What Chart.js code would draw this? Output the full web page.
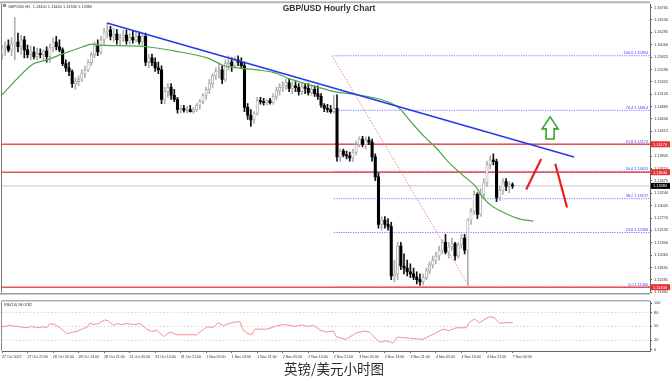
<!DOCTYPE html>
<html><head><meta charset="utf-8">
<script src="https://cdn.jsdelivr.net/npm/chart.js@4.4.0/dist/chart.umd.min.js"></script>
<style>
html,body{margin:0;padding:0;background:#fff;width:672px;height:381px;overflow:hidden;position:relative;font-family:"Liberation Sans",Arial,sans-serif}
canvas{position:absolute;left:0}
#main{top:0}
#rsi{top:297px}
#title{position:absolute;top:3.5px;left:0;width:658px;text-align:center;font:bold 8.5px "Liberation Sans",Arial,sans-serif;line-height:1;color:#333}
#caption{position:absolute;top:362px;left:0;width:668px;text-align:center;font:13.5px "Noto Sans CJK SC",sans-serif;line-height:1;color:#2a2a2a}
</style></head>
<body>
<canvas id="main" width="672" height="297"></canvas>
<canvas id="rsi" width="672" height="65"></canvas>
<div id="title">GBP/USD Hourly Chart</div>
<div id="caption">英镑/美元小时图</div>
<script>
// ---------- DATA ----------
const opens = [
1.1587,1.1600,1.1604,1.1596,1.1607,1.1611,1.1602,1.1615,1.1596,1.1587,
1.1592,1.1583,1.1588,1.1587,1.1594,1.1583,1.1600,1.1611,1.1602,1.1596,
1.1570,1.1562,1.1555,1.1532,1.1536,1.1541,1.1551,1.1558,1.1572,1.1587,
1.1604,1.1592,1.1615,1.1630,1.1634,1.1622,1.1626,1.1615,1.1619,1.1624,
1.1613,1.1620,1.1615,1.1622,1.1611,1.1622,1.1573,1.1581,1.1572,1.1562,
1.1558,1.1502,1.1517,1.1525,1.1510,1.1502,1.1483,1.1485,1.1481,1.1483,
1.1479,1.1483,1.1491,1.1498,1.1510,1.1521,1.1532,1.1547,1.1555,1.1558,
1.1540,1.1570,1.1573,1.1566,1.1577,1.1573,1.1566,1.1487,1.1472,1.1463,
1.1476,1.1500,1.1498,1.1496,1.1500,1.1496,1.1508,1.1519,1.1525,1.1528,
1.1534,1.1523,1.1528,1.1525,1.1517,1.1526,1.1523,1.1515,1.1521,1.1513,
1.1508,1.1491,1.1485,1.1483,1.1479,1.1485,1.1393,1.1404,1.1397,1.1395,
1.1391,1.1402,1.1416,1.1427,1.1416,1.1425,1.1421,1.1393,1.1355,1.1265,
1.1273,1.1265,1.1261,1.1167,1.1171,1.1224,1.1186,1.1182,1.1175,1.1171,
1.1165,1.1160,1.1156,1.1164,1.1177,1.1188,1.1197,1.1205,1.1216,1.1231,
1.1212,1.1222,1.1228,1.1205,1.1226,1.1239,1.1216,1.1273,1.1290,1.1322,
1.1284,1.1322,1.1344,1.1378,1.1387,1.1384,1.1316,1.1329,1.1346,1.1337,
1.1340];
const highs = [
1.1605,1.1611,1.1615,1.1619,1.1658,1.1628,1.1624,1.1622,1.1605,1.1604,
1.1602,1.1600,1.1598,1.1596,1.1602,1.1607,1.1619,1.1622,1.1615,1.1600,
1.1577,1.1573,1.1558,1.1543,1.1547,1.1558,1.1566,1.1577,1.1592,1.1611,
1.1615,1.1622,1.1637,1.1647,1.1641,1.1637,1.1635,1.1626,1.1634,1.1634,
1.1628,1.1632,1.1630,1.1630,1.1626,1.1628,1.1587,1.1588,1.1581,1.1573,
1.1566,1.1525,1.1532,1.1532,1.1521,1.1506,1.1491,1.1491,1.1489,1.1491,
1.1487,1.1494,1.1502,1.1513,1.1525,1.1540,1.1551,1.1562,1.1568,1.1566,
1.1577,1.1585,1.1581,1.1583,1.1585,1.1581,1.1573,1.1494,1.1483,1.1479,
1.1506,1.1506,1.1504,1.1502,1.1504,1.1513,1.1525,1.1532,1.1536,1.1540,
1.1540,1.1536,1.1536,1.1532,1.1532,1.1532,1.1532,1.1528,1.1528,1.1528,
1.1513,1.1494,1.1493,1.1491,1.1510,1.1511,1.1408,1.1408,1.1404,1.1402,
1.1408,1.1423,1.1431,1.1432,1.1431,1.1431,1.1427,1.1399,1.1363,1.1280,
1.1280,1.1276,1.1269,1.1197,1.1231,1.1231,1.1209,1.1197,1.1190,1.1182,
1.1175,1.1171,1.1171,1.1182,1.1194,1.1205,1.1212,1.1224,1.1235,1.1246,
1.1231,1.1239,1.1231,1.1231,1.1246,1.1246,1.1276,1.1295,1.1329,1.1325,
1.1333,1.1352,1.1385,1.1395,1.1399,1.1389,1.1337,1.1352,1.1352,1.1346,
1.1344];
const lows = [
1.1577,1.1585,1.1592,1.1585,1.1577,1.1592,1.1587,1.1581,1.1581,1.1577,
1.1579,1.1577,1.1581,1.1577,1.1573,1.1572,1.1592,1.1596,1.1592,1.1566,
1.1555,1.1547,1.1525,1.1521,1.1528,1.1536,1.1543,1.1555,1.1566,1.1581,
1.1585,1.1588,1.1607,1.1619,1.1615,1.1611,1.1607,1.1604,1.1611,1.1607,
1.1607,1.1609,1.1611,1.1607,1.1605,1.1566,1.1562,1.1566,1.1555,1.1551,
1.1494,1.1494,1.1506,1.1502,1.1498,1.1476,1.1476,1.1478,1.1476,1.1478,
1.1476,1.1479,1.1483,1.1494,1.1502,1.1513,1.1525,1.1540,1.1543,1.1532,
1.1536,1.1558,1.1555,1.1562,1.1566,1.1562,1.1479,1.1464,1.1451,1.1457,
1.1472,1.1493,1.1491,1.1491,1.1493,1.1493,1.1502,1.1510,1.1517,1.1521,
1.1517,1.1513,1.1517,1.1510,1.1511,1.1513,1.1510,1.1510,1.1508,1.1502,
1.1487,1.1479,1.1478,1.1476,1.1476,1.1385,1.1385,1.1393,1.1389,1.1385,
1.1384,1.1397,1.1412,1.1412,1.1408,1.1416,1.1385,1.1348,1.1258,1.1254,
1.1258,1.1254,1.1160,1.1156,1.1160,1.1179,1.1171,1.1167,1.1164,1.1160,
1.1152,1.1149,1.1150,1.1160,1.1171,1.1182,1.1190,1.1197,1.1209,1.1209,
1.1201,1.1216,1.1197,1.1201,1.1220,1.1209,1.1149,1.1265,1.1284,1.1276,
1.1280,1.1314,1.1337,1.1370,1.1378,1.1308,1.1310,1.1322,1.1329,1.1325,
1.1333];
const closes = [
1.1600,1.1604,1.1596,1.1607,1.1611,1.1602,1.1615,1.1596,1.1587,1.1592,
1.1583,1.1588,1.1587,1.1594,1.1583,1.1600,1.1611,1.1602,1.1596,1.1570,
1.1562,1.1555,1.1532,1.1536,1.1541,1.1551,1.1558,1.1572,1.1587,1.1604,
1.1592,1.1615,1.1630,1.1634,1.1622,1.1626,1.1615,1.1619,1.1624,1.1613,
1.1620,1.1615,1.1622,1.1611,1.1622,1.1573,1.1581,1.1572,1.1562,1.1558,
1.1502,1.1517,1.1525,1.1510,1.1502,1.1483,1.1485,1.1481,1.1483,1.1479,
1.1483,1.1491,1.1498,1.1510,1.1521,1.1532,1.1547,1.1555,1.1558,1.1540,
1.1570,1.1573,1.1566,1.1577,1.1573,1.1566,1.1487,1.1472,1.1463,1.1476,
1.1500,1.1498,1.1496,1.1500,1.1496,1.1508,1.1519,1.1525,1.1528,1.1534,
1.1523,1.1528,1.1525,1.1517,1.1526,1.1523,1.1515,1.1521,1.1513,1.1508,
1.1491,1.1485,1.1483,1.1479,1.1485,1.1393,1.1404,1.1397,1.1395,1.1391,
1.1402,1.1416,1.1427,1.1416,1.1425,1.1421,1.1393,1.1355,1.1265,1.1273,
1.1265,1.1261,1.1167,1.1171,1.1224,1.1186,1.1182,1.1175,1.1171,1.1165,
1.1160,1.1156,1.1164,1.1177,1.1188,1.1197,1.1205,1.1216,1.1231,1.1212,
1.1222,1.1228,1.1205,1.1226,1.1239,1.1216,1.1273,1.1290,1.1322,1.1284,
1.1322,1.1344,1.1378,1.1387,1.1384,1.1316,1.1329,1.1346,1.1337,1.1340,
1.1338];

// moving average, read as [bar index, price]
const maPoints = [[0,1.1511],[9.4,1.1568],[14.1,1.1577],[18.8,1.1588],[25.4,1.1602],[28.2,1.1607],
[30.7,1.1605],[37,1.1604],[45.5,1.1602],[55.8,1.1592],[64.3,1.1581],[69.6,1.1566],[73.7,1.1562],
[79.9,1.1558],[85.3,1.1553],[90.6,1.1540],[98.7,1.1526],[104.1,1.1517],[111.3,1.1511],[118.8,1.1502],
[123.8,1.1489],[128.2,1.1459],[132.3,1.1432],[136.4,1.1408],[139.8,1.1384],[143.9,1.1361],
[148.3,1.1338],[150.2,1.1320],[153.3,1.1301],[157.7,1.1286],[161.8,1.1276],[166.5,1.1271]];

// RSI(14), read as [bar index, value]
const rsiPoints = [[0,49],[2.5,52],[5.6,49],[7.7,47],[9.3,50],[10.9,47],[12.9,49],[14,47],[15,56],[16.6,54],
[18.2,47],[20.3,34],[21.8,37],[23.9,40],[25.5,46],[26.5,47],[27.6,57],[28.6,54],[30.2,56],[31.2,60],
[32.3,64],[33.3,62],[34.9,52],[36,56],[37.5,54],[39.1,56],[41.2,54],[43.3,56],[45.4,44],[46.9,39],
[48.5,42],[50.6,28],[52.7,38],[54.8,32],[61,32],[62.1,38],[64.2,49],[66.2,48],[67.8,58],[69.4,52],
[72.5,59],[74.6,60],[75.6,42],[76.7,36],[78.3,32],[79.3,44],[83,44],[86.1,51],[88.2,54],[90.3,52],
[91.8,50],[93.9,53],[95.5,50],[97.6,52],[99.7,42],[101.8,38],[103.9,40],[104.7,28],[107.8,22],[111,36],
[113.6,40],[115.1,38],[118.3,16],[120.4,19],[122.5,14],[124,27],[125.6,26],[131.9,22],[136,36],[138.1,44],
[140.2,41],[142.3,47],[145.5,47],[146.5,59],[148.1,66],[149.6,58],[152.8,71],[154.3,69],[155.9,57],[158,58],[160.1,58]];

const xTickIdx = [0,8,16,24,32,40,48,56,64,72,80,88,96,104,112,120,128,136,144,152,160];
const xTickLabels = ['27 Oct 2022','27 Oct 21:00','28 Oct 05:00','28 Oct 13:00','28 Oct 21:00','31 Oct 05:00',
'31 Oct 13:00','31 Oct 21:00','1 Nov 05:00','1 Nov 13:00','1 Nov 21:00','2 Nov 05:00','2 Nov 13:00',
'2 Nov 21:00','3 Nov 05:00','3 Nov 13:00','3 Nov 21:00','4 Nov 05:00','4 Nov 13:00','4 Nov 21:00','7 Nov 05:00'];
const yTickLabels = ['1.11360','1.11595','1.11830','1.12065','1.12300','1.12535','1.12770','1.13005',
'1.13240','1.13475','1.13710','1.13945','1.14180','1.14415','1.14650','1.14885','1.15120','1.15355',
'1.15590','1.15825','1.16060','1.16295','1.16530','1.16765'];
const rsiTicks = [0,20,50,80,100];
const rsiLevels = [20,50,80];

const fibRatios = ['0.0','23.6','38.2','50.0','61.8','76.4','100.0'];
const fibPrices = [1.11460,1.12496,1.13137,1.13655,1.14173,1.14814,1.15850];
const fibStart = 104;
const redLines = [1.14170,1.13640,1.11458];
const trendLine = [[32.9,1.1647],[179.3,1.1393]];
const fibDiagonal = [[103.4,1.1585],[146.4,1.1147]];
const stroke1 = [[164.3,1.1331],[169.0,1.1389]];
const stroke2 = [[173.4,1.1380],[177.1,1.1297]];
const arrowPos = [171.8,1.1469,1.1427]; // bar index, tip price, base price

// ---------- CHART ----------
const X_MIN = 0, X_MAX = 203.1;
const FONT = '"Liberation Sans", Arial, sans-serif';
Chart.defaults.font.family = FONT;
const n = closes.length;
const up = closes.map((c,i)=>c>=opens[i]);
const bodies = closes.map((c,i)=>({x:i,y:[opens[i],c]}));
const wicks = closes.map((c,i)=>({x:i,y:[lows[i],highs[i]]}));
const pts = a => a.map(p=>({x:p[0],y:p[1]}));
const hline = (p,x0) => [{x:x0,y:p},{x:X_MAX,y:p}];
const lineDs = (data, color, width, dash, order) => ({type:'line', data, borderColor:color, borderWidth:width,
  borderDash:dash||[], pointRadius:0, fill:false, tension:0, order});

const datasets = [];
datasets.push(lineDs(pts(trendLine),'#2638ea',1.6,null,1));
datasets.push(Object.assign(lineDs(pts(maPoints),'#4aa84a',1.2,null,2),{tension:0.35}));
datasets.push(lineDs(pts(stroke1),'#ea2020',2.2,null,0));
datasets.push(lineDs(pts(stroke2),'#ea2020',2.2,null,0));
datasets.push({type:'bar', data:bodies, grouped:false, barThickness:2.4, minBarLength:1, borderSkipped:false,
  backgroundColor: up.map(u=>u?'#ffffff':'#000000'), borderColor: up.map(u=>u?'#a4a4a4':'#000000'),
  borderWidth: up.map(u=>u?0.8:0), order:3});
datasets.push({type:'bar', data:wicks, grouped:false, barThickness:1, borderSkipped:false,
  backgroundColor: up.map(u=>u?'#b0b0b0':'#111111'), borderWidth:0, order:4});
datasets.push(lineDs(pts(fibDiagonal),'rgba(240,110,110,0.85)',1,[1.5,1.5],5));
redLines.forEach(p=>datasets.push(lineDs(hline(p,X_MIN),'rgba(236,64,64,0.9)',1.6,null,6)));
fibPrices.forEach(p=>datasets.push(lineDs(hline(p,fibStart),'#6b6bff',0.9,[1.2,1.2],7)));
datasets.push(lineDs(hline(closes[n-1],X_MIN),'#d2d2d2',1.4,null,8));

const mainDecor = {
  id:'mainDecor',
  afterDatasetsDraw(chart){
    const {ctx, chartArea:a, scales:{x,y}} = chart;
    ctx.save();
    ctx.font = '3.8px '+FONT; ctx.fillStyle = '#3c3cff';
    ctx.textAlign = 'right'; ctx.textBaseline = 'bottom';
    fibPrices.forEach((p,k)=>ctx.fillText(fibRatios[k]+' '+p.toFixed(5), a.right-2, y.getPixelForValue(p)-0.5));
    const ax = x.getPixelForValue(arrowPos[0]), at = y.getPixelForValue(arrowPos[1]), ab = y.getPixelForValue(arrowPos[2]);
    const hh = 12, hw = 8, sw = 4;
    ctx.beginPath();
    ctx.moveTo(ax,at); ctx.lineTo(ax+hw,at+hh); ctx.lineTo(ax+sw,at+hh); ctx.lineTo(ax+sw,ab);
    ctx.lineTo(ax-sw,ab); ctx.lineTo(ax-sw,at+hh); ctx.lineTo(ax-hw,at+hh); ctx.closePath();
    ctx.fillStyle = '#fff'; ctx.fill();
    ctx.strokeStyle = '#2fa82f'; ctx.lineWidth = 1.6; ctx.lineJoin='miter'; ctx.stroke();
    ctx.restore();
  },
  afterDraw(chart){
    const {ctx, chartArea:a, scales:{y}} = chart;
    ctx.save();
    ctx.strokeStyle = '#b4b4b4'; ctx.lineWidth = 2;
    ctx.beginPath(); ctx.moveTo(0,a.top-2); ctx.lineTo(a.right,a.top-2); ctx.stroke();
    ctx.strokeStyle = '#7a7a7a'; ctx.lineWidth = 1;
    ctx.beginPath(); ctx.moveTo(a.left-0.5,a.top-1); ctx.lineTo(a.left-0.5,a.bottom); ctx.stroke();
    ctx.strokeStyle = '#999'; ctx.lineWidth = 1.5;
    ctx.beginPath(); ctx.moveTo(0,a.bottom+1); ctx.lineTo(a.right,a.bottom+1); ctx.stroke();
    ctx.font = '3.9px '+FONT; ctx.textAlign = 'left'; ctx.textBaseline = 'middle';
    const box = (p,bg)=>{ const py = y.getPixelForValue(p); ctx.fillStyle = bg; ctx.fillRect(a.right+1,py-3,19,6);
      ctx.fillStyle = '#fff'; ctx.fillText(p.toFixed(5), a.right+3, py+0.3); };
    redLines.forEach(p=>box(p,'#ec2f2f'));
    box(closes[n-1],'#000');
    ctx.textBaseline = 'alphabetic';
    ctx.fillStyle = '#6a8fc8'; ctx.fillRect(3,4,3,3);
    ctx.fillStyle = '#333';
    ctx.fillText('GBPUSD,H1  '+[opens[n-1],highs[n-1],lows[n-1],closes[n-1]].map(v=>v.toFixed(5)).join(' '), 8, 7.5);
    ctx.restore();
  }
};

new Chart(document.getElementById('main'), {
  type:'bar',
  data:{datasets},
  options:{
    responsive:false, devicePixelRatio:1, animation:false, events:[],
    layout:{padding:{left:2,top:4,right:0,bottom:2}},
    plugins:{legend:{display:false}, tooltip:{enabled:false}, title:{display:false}},
    scales:{
      x:{type:'linear', display:false, min:X_MIN, max:X_MAX, offset:false},
      y:{type:'linear', position:'right', min:1.11354, max:1.16825, beginAtZero:false,
        afterFit:s=>{s.width=22;},
        afterBuildTicks:s=>{s.ticks = yTickLabels.map(v=>({value:parseFloat(v)}));},
        ticks:{autoSkip:false, font:{size:3.9}, color:'#333', padding:2, callback:(v,i)=>yTickLabels[i]},
        grid:{drawOnChartArea:false, drawTicks:true, tickLength:2, color:'#555'},
        border:{display:true, color:'#666', width:1}}
    }
  },
  plugins:[mainDecor]
});

const rsiDecor = {
  id:'rsiDecor',
  afterDraw(chart){
    const {ctx, chartArea:a} = chart;
    ctx.save();
    ctx.strokeStyle = '#8a8a8a'; ctx.lineWidth = 1;
    ctx.beginPath(); ctx.moveTo(a.left-0.5,a.top-0.5); ctx.lineTo(a.right,a.top-0.5); ctx.stroke();
    ctx.beginPath(); ctx.moveTo(a.left-0.5,a.top); ctx.lineTo(a.left-0.5,a.bottom); ctx.stroke();
    ctx.fillStyle = '#333'; ctx.font = '3.8px '+FONT; ctx.textBaseline = 'alphabetic';
    ctx.fillText('RSI(14) 58.0782', a.left+2, a.top+4.5);
    ctx.restore();
  }
};

new Chart(document.getElementById('rsi'), {
  type:'line',
  data:{datasets:[
    lineDs(pts(rsiPoints),'#f59090',1,null,0),
    ...rsiLevels.map(v=>lineDs(hline(v,X_MIN),'#c8c8c8',0.8,[1.5,2],1))
  ]},
  options:{
    responsive:false, devicePixelRatio:1, animation:false, events:[],
    layout:{padding:{left:2,top:1,right:0,bottom:0}},
    plugins:{legend:{display:false}, tooltip:{enabled:false}},
    scales:{
      x:{type:'linear', min:X_MIN, max:X_MAX, offset:false,
        afterFit:s=>{s.height=11;},
        afterBuildTicks:s=>{s.ticks = xTickIdx.map(v=>({value:v}));},
        ticks:{autoSkip:false, maxRotation:0, align:'start', font:{size:3.6}, color:'#333', padding:1.5,
          callback:(v,i)=>xTickLabels[i]},
        grid:{drawOnChartArea:false, drawTicks:true, tickLength:2, color:'#666'},
        border:{display:true, color:'#666', width:1}},
      y:{type:'linear', position:'right', min:-3, max:104,
        afterFit:s=>{s.width=22;},
        afterBuildTicks:s=>{s.ticks = rsiTicks.map(v=>({value:v}));},
        ticks:{autoSkip:false, font:{size:3.9}, color:'#333', padding:2, callback:v=>String(v)},
        grid:{drawOnChartArea:false, drawTicks:true, tickLength:2, color:'#555'},
        border:{display:true, color:'#666', width:1}}
    }
  },
  plugins:[rsiDecor]
});
</script>
</body></html>
